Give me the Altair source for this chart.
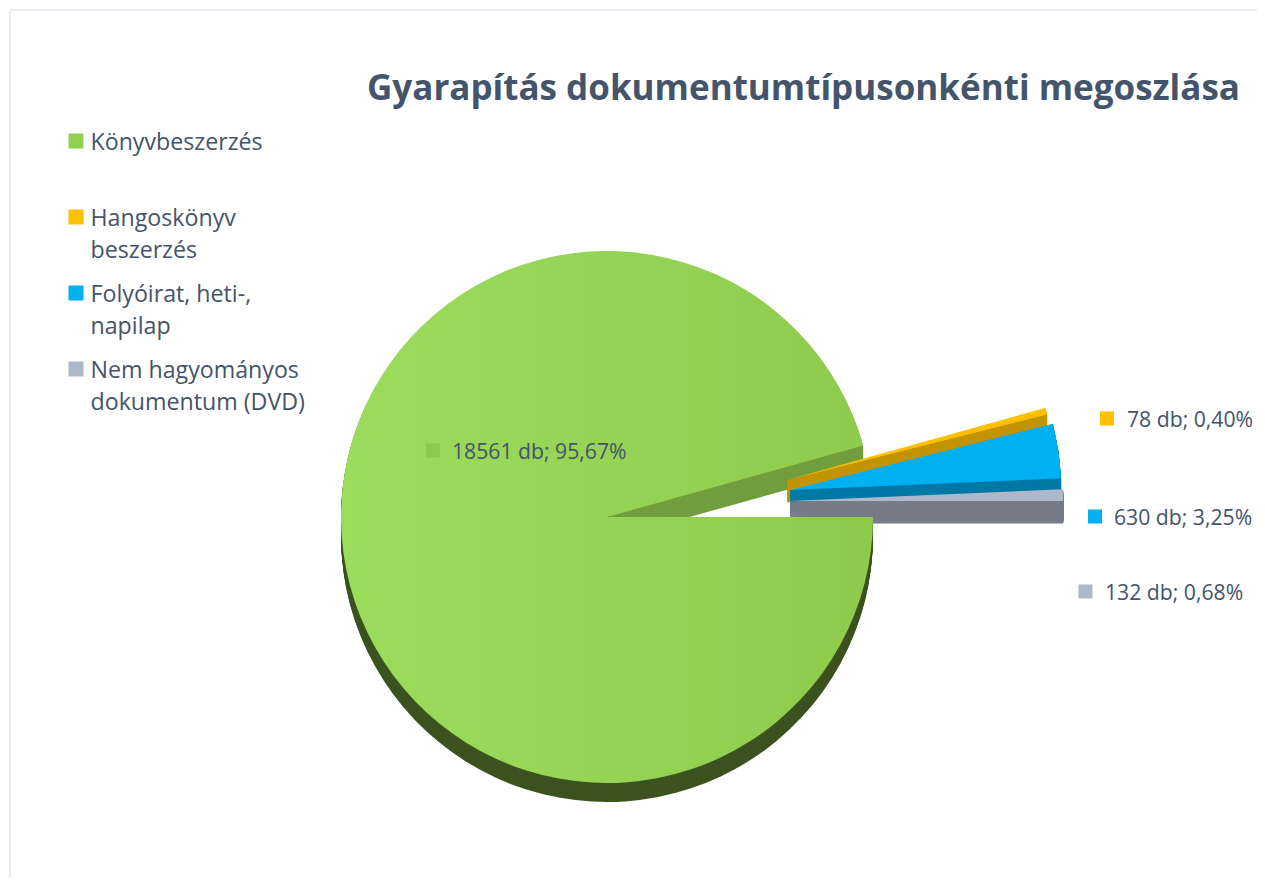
import altair as alt
import pandas as pd

categories = ["Könyvbeszerzés", "Hangoskönyv beszerzés", "Folyóirat, heti-, napilap", "Nem hagyományos dokumentum (DVD)"]
legend_lines = [["Könyvbeszerzés"], ["Hangoskönyv", "beszerzés"], ["Folyóirat, heti-,", "napilap"], ["Nem hagyományos", "dokumentum (DVD)"]]
values = [18561, 78, 630, 132]
top_colors = ["#92d050", "#ffc000", "#00b0f0", "#adb9ca"]
side_colors = ["#3c5320", "#c49400", "#0079a6", "#767c87"]
wall_color = "#729e3e"
text_color = "#44546a"
frame_color = "#e3e8f0"
title = "Gyarapítás dokumentumtípusonkénti megoszlása"

total = sum(values)
labels = [f"{v} db; {v / total * 100:.2f}%".replace(".", ",") for v in values]
order = list(range(len(values)))
df = pd.DataFrame({"cat": categories, "value": values, "order": order, "label": labels})
df["lines"] = legend_lines

PAD = 8
FONT = "Open Sans"

def px(v):
    return v - PAD

TWO_PI = 6.283185307
theta_scale = alt.Scale(domain=[0, total], range=[TWO_PI / 4, TWO_PI / 4 + TWO_PI])

base = alt.Chart(df).transform_stack(
    stack="value", groupby=[], as_=["t0", "t1"], sort=[alt.SortField("order", order="ascending")]
)

def slice_layer(i, cx, cy, r, color, **kw):
    return base.transform_filter(alt.datum.order == i).mark_arc(radius=r, color=color, **kw).encode(
        x=alt.value(px(cx)), y=alt.value(px(cy)),
        theta=alt.Theta("t0:Q", scale=theta_scale), theta2=alt.Theta2("t1:Q"),
    )

layers = []
# frame
layers.append(alt.Chart(df.head(1)).mark_rule(color=frame_color, strokeWidth=1.5).encode(
    x=alt.value(px(10)), y=alt.value(px(10)), y2=alt.value(px(900))))
layers.append(alt.Chart(df.head(1)).mark_rule(color=frame_color, strokeWidth=1.5).encode(
    y=alt.value(px(10)), x=alt.value(px(10)), x2=alt.value(px(1300))))

MCX, MCY, MR, MD = 607, 517, 266, 19
for off in range(MD, 0, -1):
    layers.append(slice_layer(0, MCX, MCY + off, MR, side_colors[0]))

# wall of the cut: lighter copy of the slice inside the notch
for off in range(23, 0, -1):
    layers.append(base.transform_filter(alt.datum.order == 0).mark_arc(radius=MR, color=wall_color).encode(
        x=alt.value(px(MCX)), y=alt.value(px(MCY + off)),
        theta=alt.Theta("a0:Q", scale=theta_scale), theta2=alt.Theta2("t1:Q"),
    ).transform_calculate(a0="datum.t1 - 1000"))

slices = {1: (787, 480, 268), 2: (790, 490, 271), 3: (790, 501, 273)}
for i in (1, 2, 3):
    cx, cy, r = slices[i]
    for off in range(22, 0, -1):
        layers.append(slice_layer(i, cx, cy + off, r, side_colors[i], stroke=side_colors[i], strokeWidth=1))
    layers.append(slice_layer(i, cx, cy, r, top_colors[i]))

layers.append(slice_layer(0, MCX, MCY, MR, alt.Gradient(
    gradient="linear", x1=0, x2=1, y1=0, y2=0,
    stops=[alt.GradientStop(color="#9cdc5c", offset=0), alt.GradientStop(color="#8ecb4c", offset=1)])))

# legend
legend_pos = [141, 217, 293, 369]
for i, yy in enumerate(legend_pos):
    d = df[df.order == i]
    layers.append(alt.Chart(d).mark_point(shape="square", filled=True, size=225, opacity=1, color=top_colors[i]).encode(
        x=alt.value(px(76)), y=alt.value(px(yy))))
    layers.append(alt.Chart(d).mark_text(align="left", baseline="middle", font=FONT, fontSize=23.2, lineHeight=32, color=text_color).encode(
        x=alt.value(px(90.5)), y=alt.value(px(yy + 1.5)), text="lines"))

# data labels
label_pos = [(452, 452.5, 433, "#8cc84a"), (1127, 420.5, 1107, top_colors[1]), (1114, 518.5, 1095, top_colors[2]), (1105, 593.5, 1085.5, top_colors[3])]
for i, (tx, ty, sx, col) in enumerate(label_pos):
    d = df[df.order == i]
    layers.append(alt.Chart(d).mark_point(shape="square", filled=True, size=196, opacity=1, color=col).encode(
        x=alt.value(px(sx)), y=alt.value(px(ty - 2))))
    layers.append(alt.Chart(d).mark_text(align="left", baseline="middle", font=FONT, fontSize=21.2, color=text_color).encode(
        x=alt.value(px(tx)), y=alt.value(px(ty)), text="label:N"))

chart = alt.layer(*layers).properties(
    width=1249, height=870,
    padding=0,
    autosize=alt.AutoSizeParams(type="none"),
    title=alt.TitleParams(title, font=FONT, fontSize=35, fontWeight="bold", color=text_color,
                          anchor="start", frame="group", dx=px(367), dy=127, baseline="alphabetic", offset=0),
).configure_view(stroke=None)

chart.save("out.html", embed_options={"renderer": "svg", "actions": False})
